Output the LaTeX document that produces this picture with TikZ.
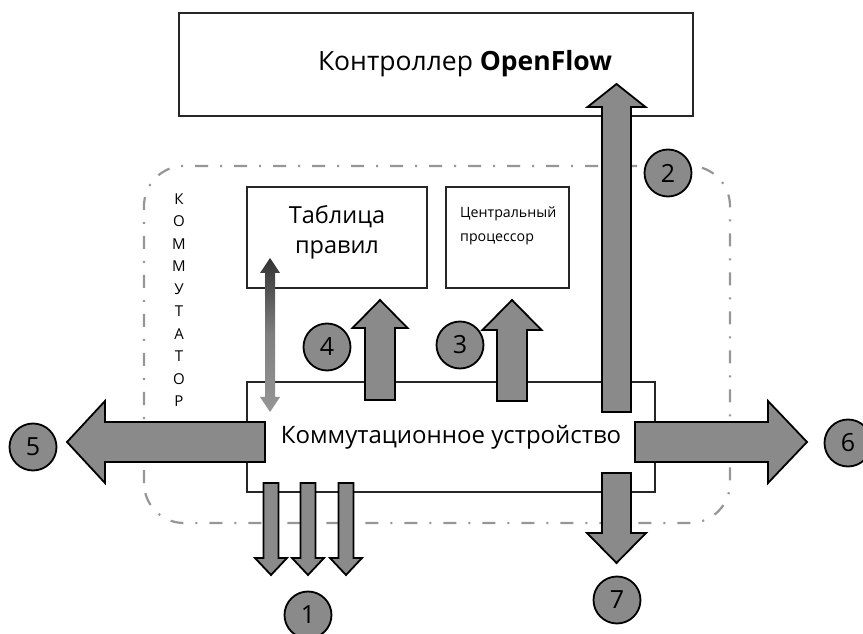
\documentclass[tikz,border=0pt]{standalone}
\usepackage{fontspec}
\setmainfont{Open Sans}
\definecolor{arrowgray}{RGB}{138,138,138}
\definecolor{framegray}{RGB}{150,150,150}
\tikzset{
  box/.style={draw=black!85, line width=2pt, fill=white},
  num/.style={circle, draw=black, line width=1.8pt, fill=arrowgray, minimum size=47pt, inner sep=0pt, font=\fontsize{25}{28}\selectfont},
  pics/barrow/.style args={#1/#2/#3/#4}{code={
    \draw[line width=1.8pt, fill=arrowgray, line join=miter]
      (0,-#2) -- ({#1-#4},-#2) -- ({#1-#4},-#3) -- (#1,0) -- ({#1-#4},#3) -- ({#1-#4},#2) -- (0,#2) -- cycle;}},
}
\begin{document}
\begin{tikzpicture}[x=1pt, y=1pt]
\useasboundingbox (0,0) rectangle (863,633);
% Коммутатор (рамка)
\draw[framegray, line width=2.2pt, rounded corners=40pt, dash pattern=on 13pt off 12pt on 2pt off 12pt]
  (144,110) rectangle (730,467);
\node[font=\fontsize{15}{22.5}\selectfont, align=center] (vert) at (179,333)
  {К\\О\\М\\М\\У\\Т\\А\\Т\\О\\Р};
% Блоки
\node[box, minimum width=514pt, minimum height=103pt] (ctrl) at (436,568.5) {};
\node[font=\fontsize{26.5}{30}\selectfont] (ctrltext) at (465,569) {Контроллер \textbf{OpenFlow}};
\node[box, minimum width=180pt, minimum height=101pt] (table) at (337,395.5) {};
\node[font=\fontsize{23.5}{30}\selectfont, align=center] (tabletext) at (337,401) {Таблица\\правил};
\node[box, minimum width=123pt, minimum height=101pt] (cpu) at (507.5,395.5) {};
\node[font=\fontsize{14.2}{24}\selectfont, align=left, anchor=north west, inner sep=0pt] (cputext) at (460,426)
  {Центральный\\процессор};
\node[box, minimum width=408pt, minimum height=110pt, font=\fontsize{24}{28}\selectfont] (dev) at (451,196)
  {Коммутационное устройство};
% Двусторонняя стрелка
\shade[top color=black!80, bottom color=arrowgray!90, middle color=gray]
  (270,375) -- (280,360) -- (275,360) -- (275,236) -- (280,236) -- (270,221)
  -- (260,236) -- (265,236) -- (265,360) -- (260,360) -- cycle;
% Стрелки
\pic[rotate=180] (a5) at (265,191) {barrow={198/20/41/38}};
\pic (a6) at (635,191) {barrow={172/20/41/39}};
\pic[rotate=90] (a2) at (616.5,221) {barrow={328/14.5/29/23}};
\pic[rotate=90] (a4) at (380,233) {barrow={100/15/27.5/28}};
\pic[rotate=90] (a3) at (512,232) {barrow={101/15/29.5/30}};
\foreach \x in {271,308,346}
  \pic[rotate=-90] at (\x,150) {barrow={92/7.5/16/17}};
\pic[rotate=-90] (a7) at (616.5,160) {barrow={90/14.5/29.5/30}};
% Номера
\node[num] (n1) at (308,18) {1};
\node[num] (n2) at (668,460) {2};
\node[num] (n3) at (460,288) {3};
\node[num] (n4) at (327,286) {4};
\node[num] (n5) at (33,186) {5};
\node[num] (n6) at (848,190) {6};
\node[num] (n7) at (617,33) {7};
\end{tikzpicture}
\end{document}
